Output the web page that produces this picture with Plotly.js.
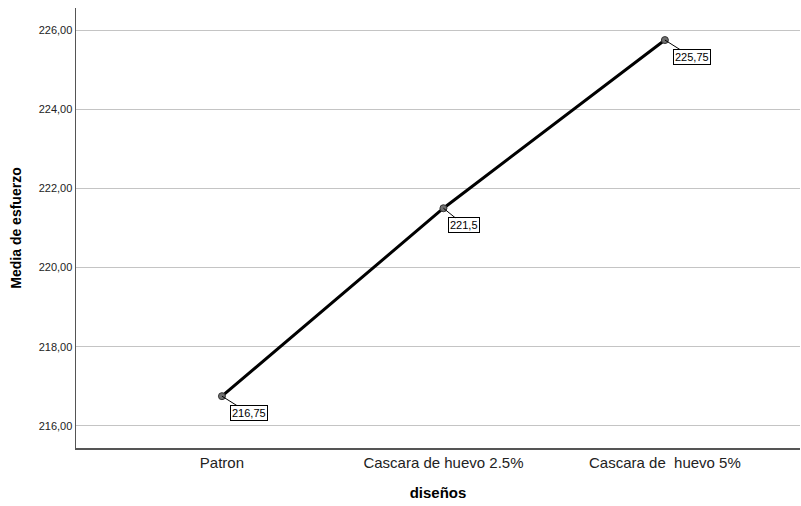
<!DOCTYPE html>
<html><head><meta charset="utf-8">
<script src="https://cdn.plot.ly/plotly-3.0.1.min.js"></script>
<style>body{margin:0;padding:0;background:#fff}#c{width:801px;height:506px}</style>
</head><body><div id="c"></div>
<script>
const categories = ["Patron", "Cascara de huevo 2.5%", "Cascara de  huevo 5%"];
const means = [216.75, 221.5, 225.75];
const labels = ["216,75", "221,5", "225,75"];
const yTicks = [216, 218, 220, 222, 224, 226];

const trace = {
  x: [0, 1, 2], y: means, type: 'scatter', mode: 'lines+markers',
  line: {color: '#000', width: 3},
  marker: {size: 7, color: '#707070', line: {color: '#333', width: 1}},
  hoverinfo: 'skip'
};
const annotations = means.map((v, i) => ({
  x: i, y: v, xref: 'x', yref: 'y', text: labels[i],
  showarrow: true, arrowhead: 0, arrowwidth: 1, arrowcolor: '#000',
  ax: labels[i].length > 5 ? 27 : 21, ay: 17,
  bordercolor: '#000', borderwidth: 1, borderpad: 1, bgcolor: '#fff',
  font: {family: 'Liberation Sans, Arial, sans-serif', size: 11, color: '#000'}
}));
const layout = {
  width: 801, height: 506,
  margin: {l: 76, r: 1, t: 8, b: 58},
  paper_bgcolor: '#fff', plot_bgcolor: '#fff',
  separators: ',.',
  showlegend: false,
  font: {family: 'Liberation Sans, Arial, sans-serif', color: '#000'},
  xaxis: {
    range: [-0.659, 2.61], tickvals: [0, 1, 2], ticktext: categories,
    showgrid: false, zeroline: false, showline: true, linecolor: '#555', linewidth: 1.5,
    ticks: '', tickfont: {size: 15, color: '#222'},
    title: {text: '<b>diseños</b>', font: {size: 15, color: '#000'}, standoff: 18}
  },
  yaxis: {
    range: [215.44, 226.56], tickvals: yTicks, tickformat: '.2f',
    showgrid: true, gridcolor: '#c4c4c4', gridwidth: 1, zeroline: false,
    showline: true, linecolor: '#555', linewidth: 1.5, ticks: '',
    tickfont: {size: 11, color: '#222'},
    title: {text: '<b>Media de esfuerzo</b>', font: {size: 14, color: '#000'}, standoff: 13}
  },
  annotations: annotations
};
Plotly.newPlot('c', [trace], layout, {displayModeBar: false, staticPlot: true});
</script></body></html>
